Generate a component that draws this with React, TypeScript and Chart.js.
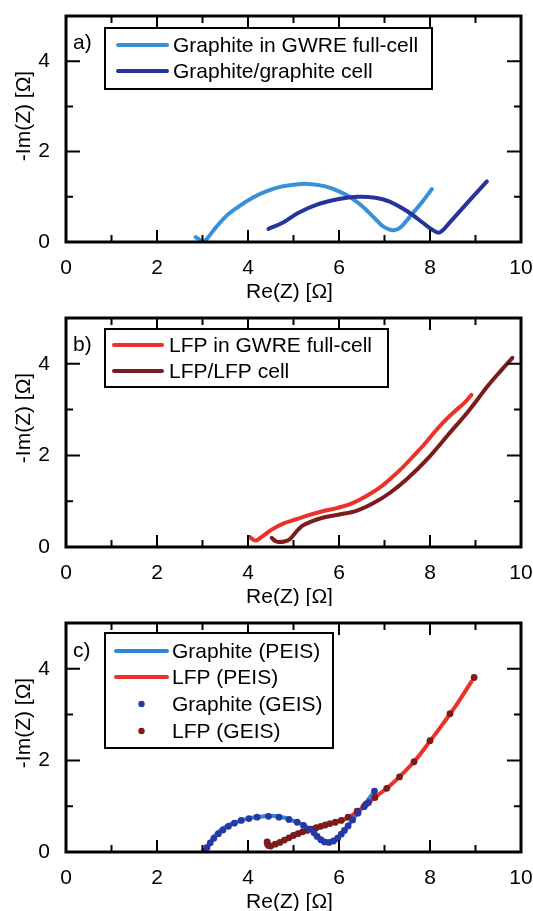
import React, { useEffect, useRef } from 'react';
import { Chart, registerables } from 'chart.js';

Chart.register(...registerables);

const FONT = '"Liberation Sans", Arial, Helvetica, sans-serif';

// Tick labels
const xTickLabels = ['0', '', '2', '', '4', '', '6', '', '8', '', '10'];
const yTickLabels = ['0', '', '2', '', '4', ''];
const xTitle = 'Re(Z) [Ω]';
const yTitle = '-Im(Z) [Ω]';

// Panel a
const graphiteFullCellX = [2.85, 2.95, 3.03, 3.12, 3.3, 3.55, 3.8, 4.1, 4.4, 4.75, 5.1, 5.4, 5.7, 6.0, 6.25, 6.5, 6.75, 6.95, 7.1, 7.2, 7.35, 7.55, 7.8, 8.04];
const graphiteFullCellY = [0.11, 0.04, 0.0, 0.1, 0.33, 0.6, 0.79, 0.98, 1.12, 1.23, 1.28, 1.28, 1.23, 1.12, 0.99, 0.8, 0.56, 0.36, 0.28, 0.26, 0.32, 0.55, 0.85, 1.17];
const graphiteSymX = [4.45, 4.75, 5.1, 5.5, 6.0, 6.4, 6.8, 7.1, 7.5, 7.85, 8.05, 8.21, 8.45, 8.85, 9.25];
const graphiteSymY = [0.29, 0.42, 0.64, 0.82, 0.95, 1.0, 0.98, 0.9, 0.68, 0.42, 0.27, 0.21, 0.45, 0.9, 1.34];

// Panel b
const lfpFullCellX = [4.04, 4.1, 4.17, 4.3, 4.52, 4.8, 5.04, 5.35, 5.64, 5.95, 6.23, 6.45, 6.65, 6.9, 7.13, 7.4, 7.65, 7.9, 8.1, 8.35, 8.54, 8.75, 8.91];
const lfpFullCellY = [0.22, 0.17, 0.14, 0.22, 0.38, 0.52, 0.6, 0.7, 0.78, 0.85, 0.93, 1.03, 1.14, 1.3, 1.49, 1.74, 2.0, 2.27, 2.51, 2.78, 2.96, 3.14, 3.32];
const lfpSymX = [4.52, 4.6, 4.67, 4.8, 4.92, 5.05, 5.19, 5.4, 5.64, 6.01, 6.38, 6.76, 7.13, 7.5, 7.95, 8.39, 8.84, 9.29, 9.55, 9.81];
const lfpSymY = [0.2, 0.13, 0.11, 0.12, 0.17, 0.32, 0.46, 0.56, 0.64, 0.71, 0.79, 0.96, 1.19, 1.49, 1.93, 2.44, 2.96, 3.54, 3.84, 4.13];

// Panel c
const graphitePeisX = [3.03, 3.1, 3.2, 3.31, 3.53, 3.82, 4.04, 4.26, 4.45, 4.7, 4.92, 5.22, 5.44, 5.58, 5.73, 5.91, 6.09, 6.31, 6.61, 6.78];
const graphitePeisY = [0.0, 0.1, 0.25, 0.4, 0.57, 0.68, 0.74, 0.77, 0.79, 0.77, 0.71, 0.59, 0.44, 0.29, 0.22, 0.26, 0.44, 0.72, 1.1, 1.33];
const lfpPeisX = [4.42, 4.48, 4.7, 5.0, 5.3, 5.6, 5.9, 6.2, 6.5, 6.8, 7.1, 7.4, 7.7, 8.0, 8.3, 8.6, 8.91];
const lfpPeisY = [0.2, 0.15, 0.22, 0.37, 0.48, 0.56, 0.64, 0.75, 0.95, 1.2, 1.43, 1.71, 2.03, 2.42, 2.82, 3.24, 3.72];
const graphiteGeisX = [3.05, 3.1, 3.17, 3.25, 3.35, 3.45, 3.57, 3.7, 3.85, 4.02, 4.2, 4.45, 4.68, 4.9, 5.08, 5.22, 5.35, 5.45, 5.52, 5.6, 5.68, 5.78, 5.88, 5.97, 6.05, 6.12, 6.2, 6.3, 6.42, 6.55, 6.65, 6.78];
const graphiteGeisY = [0.02, 0.1, 0.2, 0.3, 0.4, 0.48, 0.56, 0.63, 0.69, 0.73, 0.76, 0.78, 0.76, 0.71, 0.65, 0.58, 0.5, 0.42, 0.34, 0.27, 0.22, 0.21, 0.24, 0.3, 0.39, 0.47, 0.57, 0.7, 0.85, 0.99, 1.08, 1.33];
const lfpGeisX = [4.42, 4.43, 4.45, 4.5, 4.6, 4.7, 4.8, 4.9, 5.0, 5.1, 5.2, 5.3, 5.4, 5.5, 5.6, 5.7, 5.8, 5.92, 6.05, 6.2, 6.4, 6.59, 6.79, 7.05, 7.33, 7.65, 8.0, 8.44, 8.97];
const lfpGeisY = [0.22, 0.17, 0.14, 0.13, 0.17, 0.21, 0.26, 0.31, 0.36, 0.4, 0.44, 0.47, 0.5, 0.53, 0.56, 0.59, 0.62, 0.65, 0.69, 0.76, 0.89, 1.04, 1.19, 1.39, 1.64, 1.97, 2.43, 3.02, 3.81];

const C_LIGHTBLUE = '#3a90d8';
const C_DARKBLUE = '#26339c';
const C_RED = '#ee3128';
const C_DARKRED = '#7c1b1b';
const C_BLUE_LINE = '#2f86d8';
const C_BLUE_DOT = '#2538a8';

const pts = (xs: number[], ys: number[]) => xs.map((x, i) => ({ x, y: ys[i] }));

const lineDs = (label: string, xs: number[], ys: number[], color: string, order: number) => ({
  label,
  data: pts(xs, ys),
  showLine: true,
  borderColor: color,
  backgroundColor: color,
  borderWidth: 4,
  pointRadius: 0,
  tension: 0.35,
  borderCapStyle: 'round',
  borderJoinStyle: 'round',
  order,
});

const dotDs = (label: string, xs: number[], ys: number[], color: string, order: number) => ({
  label,
  data: pts(xs, ys),
  showLine: false,
  borderColor: color,
  backgroundColor: color,
  pointRadius: 3.4,
  pointBorderWidth: 0,
  order,
});

type Row = { text: string; color: string; kind: 'line' | 'dot'; y: number };
type Panel = {
  top: number;
  height: number;
  areaH: number;
  label: string;
  labelY: number;
  legend: { l: number; t: number; r: number; b: number; lineX0: number; lineX1: number; textX: number; rows: Row[] };
  datasets: any[];
};

const panels: Panel[] = [
  {
    top: 0,
    height: 304,
    areaH: 226,
    label: 'a)',
    labelY: 43,
    legend: {
      l: 105, t: 28, r: 432, b: 89, lineX0: 118, lineX1: 167, textX: 173,
      rows: [
        { text: 'Graphite in GWRE full-cell', color: C_LIGHTBLUE, kind: 'line', y: 45 },
        { text: 'Graphite/graphite cell', color: C_DARKBLUE, kind: 'line', y: 71 },
      ],
    },
    datasets: [
      lineDs('Graphite in GWRE full-cell', graphiteFullCellX, graphiteFullCellY, C_LIGHTBLUE, 1),
      lineDs('Graphite/graphite cell', graphiteSymX, graphiteSymY, C_DARKBLUE, 0),
    ],
  },
  {
    top: 302,
    height: 304,
    areaH: 229,
    label: 'b)',
    labelY: 43,
    legend: {
      l: 105, t: 27, r: 388, b: 85, lineX0: 114, lineX1: 162, textX: 169,
      rows: [
        { text: 'LFP in GWRE full-cell', color: C_RED, kind: 'line', y: 43 },
        { text: 'LFP/LFP cell', color: C_DARKRED, kind: 'line', y: 69 },
      ],
    },
    datasets: [
      lineDs('LFP in GWRE full-cell', lfpFullCellX, lfpFullCellY, C_RED, 0),
      lineDs('LFP/LFP cell', lfpSymX, lfpSymY, C_DARKRED, 1),
    ],
  },
  {
    top: 607,
    height: 304,
    areaH: 229,
    label: 'c)',
    labelY: 44,
    legend: {
      l: 105, t: 26, r: 333, b: 141, lineX0: 116, lineX1: 167, textX: 172,
      rows: [
        { text: 'Graphite (PEIS)', color: C_BLUE_LINE, kind: 'line', y: 44 },
        { text: 'LFP (PEIS)', color: C_RED, kind: 'line', y: 70 },
        { text: 'Graphite (GEIS)', color: C_BLUE_DOT, kind: 'dot', y: 97 },
        { text: 'LFP (GEIS)', color: C_DARKRED, kind: 'dot', y: 124 },
      ],
    },
    datasets: [
      dotDs('Graphite (GEIS)', graphiteGeisX, graphiteGeisY, C_BLUE_DOT, 0),
      dotDs('LFP (GEIS)', lfpGeisX, lfpGeisY, C_DARKRED, 1),
      lineDs('LFP (PEIS)', lfpPeisX, lfpPeisY, C_RED, 2),
      lineDs('Graphite (PEIS)', graphitePeisX, graphitePeisY, C_BLUE_LINE, 3),
    ],
  },
];

function makeDeco(p: Panel) {
  return {
    id: 'deco',
    afterDraw(chart: any) {
      const { ctx, chartArea: a, scales } = chart;
      const x = scales.x;
      const y = scales.y;
      ctx.save();
      ctx.strokeStyle = '#000';
      ctx.lineWidth = 2;
      ctx.beginPath();
      for (let v = 1; v < 10; v++) {
        const px = x.getPixelForValue(v);
        const len = v % 2 === 0 ? 12 : 7;
        ctx.moveTo(px, a.bottom);
        ctx.lineTo(px, a.bottom - len);
        ctx.moveTo(px, a.top);
        ctx.lineTo(px, a.top + len);
      }
      for (let v = 1; v < 5; v++) {
        const py = y.getPixelForValue(v);
        const len = v % 2 === 0 ? 14 : 7;
        ctx.moveTo(a.left, py);
        ctx.lineTo(a.left + len, py);
        ctx.moveTo(a.right, py);
        ctx.lineTo(a.right - len, py);
      }
      ctx.stroke();
      ctx.lineWidth = 3;
      ctx.strokeRect(a.left, a.top, a.right - a.left, a.bottom - a.top);

      // legend
      const L = p.legend;
      ctx.fillStyle = '#fff';
      ctx.fillRect(L.l, L.t, L.r - L.l, L.b - L.t);
      ctx.lineWidth = 2;
      ctx.strokeStyle = '#000';
      ctx.strokeRect(L.l, L.t, L.r - L.l, L.b - L.t);
      ctx.font = `21px ${FONT}`;
      ctx.textBaseline = 'middle';
      ctx.textAlign = 'left';
      for (const r of L.rows) {
        if (r.kind === 'line') {
          ctx.strokeStyle = r.color;
          ctx.lineWidth = 4;
          ctx.lineCap = 'round';
          ctx.beginPath();
          ctx.moveTo(L.lineX0, r.y);
          ctx.lineTo(L.lineX1, r.y);
          ctx.stroke();
        } else {
          ctx.fillStyle = r.color;
          ctx.beginPath();
          ctx.arc((L.lineX0 + L.lineX1) / 2, r.y, 3.2, 0, Math.PI * 2);
          ctx.fill();
        }
        ctx.fillStyle = '#000';
        ctx.fillText(r.text, L.textX, r.y + 1);
      }

      // panel label
      ctx.fillStyle = '#000';
      ctx.fillText(p.label, 73, p.labelY);

      // axis titles
      ctx.textAlign = 'center';
      ctx.fillText(xTitle, (a.left + a.right) / 2 - 4, a.bottom + 50);
      ctx.translate(24, 116);
      ctx.rotate(-Math.PI / 2);
      ctx.fillText(yTitle, 0, 0);
      ctx.restore();
    },
  };
}

function PanelChart({ p }: { p: Panel }) {
  const ref = useRef<HTMLCanvasElement | null>(null);
  useEffect(() => {
    if (!ref.current) return;
    const tickFont = { family: FONT, size: 21 };
    const chart = new Chart(ref.current, {
      type: 'scatter',
      data: { datasets: p.datasets },
      options: {
        animation: false,
        responsive: false,
        maintainAspectRatio: false,
        layout: { padding: { top: 16, right: 12, left: 0, bottom: 0 } },
        plugins: { legend: { display: false }, tooltip: { enabled: false } },
        scales: {
          x: {
            type: 'linear',
            min: 0,
            max: 10,
            afterFit: (s: any) => {
              s.height = p.height - 16 - p.areaH;
              s.paddingLeft = 0;
              s.paddingRight = 0;
              s.paddingTop = 0;
              s.paddingBottom = 0;
            },
            ticks: {
              stepSize: 1,
              autoSkip: false,
              maxRotation: 0,
              padding: 14,
              color: '#000',
              font: tickFont,
              callback: (v: any) => xTickLabels[Math.round(Number(v))] ?? '',
            },
            grid: { display: false, drawTicks: false },
            border: { display: false },
          },
          y: {
            type: 'linear',
            min: 0,
            max: 5,
            afterFit: (s: any) => {
              s.width = 66;
              s.paddingLeft = 0;
              s.paddingRight = 0;
              s.paddingTop = 0;
              s.paddingBottom = 0;
            },
            ticks: {
              stepSize: 1,
              autoSkip: false,
              padding: 16,
              color: '#000',
              font: tickFont,
              callback: (v: any) => yTickLabels[Math.round(Number(v))] ?? '',
            },
            grid: { display: false, drawTicks: false },
            border: { display: false },
          },
        },
      } as any,
      plugins: [makeDeco(p)],
    });
    return () => chart.destroy();
  }, [p]);
  return (
    <canvas
      ref={ref}
      width={533}
      height={p.height}
      style={{ position: 'absolute', left: 0, top: p.top, width: 533, height: p.height, display: 'block' }}
    />
  );
}

export default function App() {
  return (
    <div style={{ position: 'absolute', left: 0, top: 0, width: 533, height: 911, background: '#fff' }}>
      {panels.map((p) => (
        <PanelChart key={p.label} p={p} />
      ))}
    </div>
  );
}
